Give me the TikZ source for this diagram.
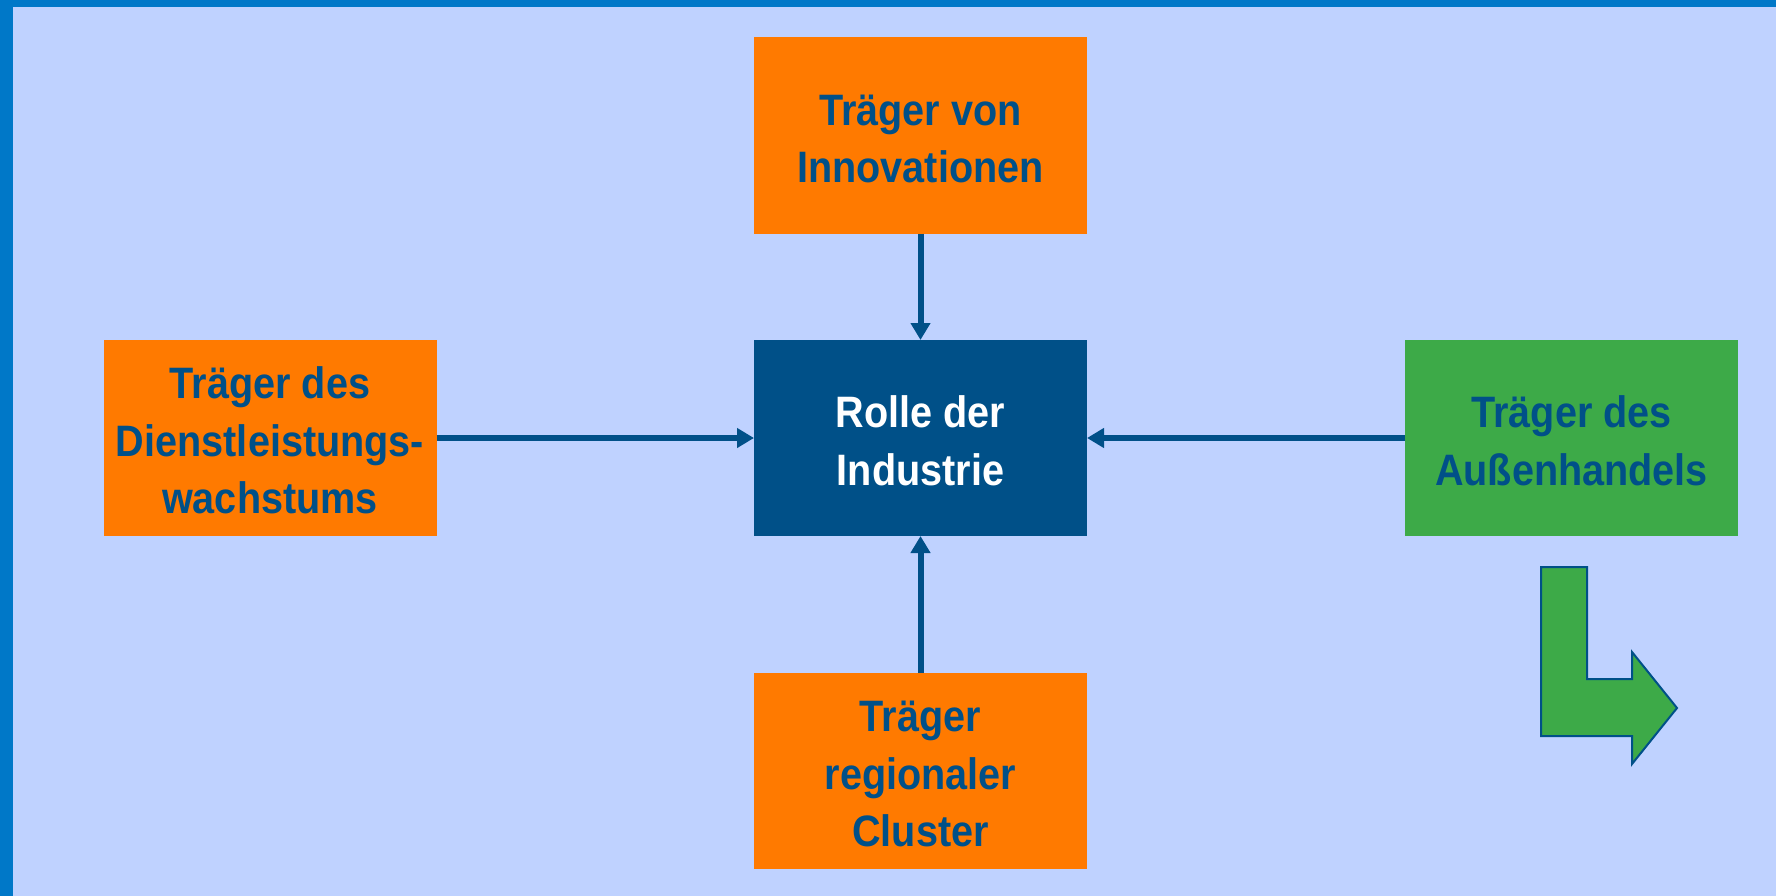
\documentclass[tikz,border=0pt]{standalone}
\usepackage{fontspec}
\setmainfont{Liberation Sans}
\newfontfamily\narrowsans[FakeStretch=0.9]{Liberation Sans}
\usetikzlibrary{arrows.meta}
\definecolor{frameblue}{HTML}{0078C8}
\definecolor{bgblue}{HTML}{BFD2FF}
\definecolor{boxorange}{HTML}{FF7A00}
\definecolor{boxgreen}{HTML}{3DAA48}
\definecolor{darkblue}{HTML}{005088}
\begin{document}
\begin{tikzpicture}[x=1pt,y=-1pt,
  box/.style={minimum width=333pt,minimum height=196pt,inner sep=0pt,outer sep=0pt,
    align=center,font=\narrowsans\fontsize{44}{57.5}\selectfont\bfseries,text=darkblue},
  orangebox/.style={box,fill=boxorange},
  greenbox/.style={box,fill=boxgreen},
  centerbox/.style={box,fill=darkblue,text=white},
  conn/.style={draw=darkblue,line width=6pt,-{Triangle[length=17pt,width=19pt]}}]
\useasboundingbox (0,0) rectangle (1776,896);
\fill[frameblue] (0,0) rectangle (1776,896);
\fill[bgblue] (13,7) rectangle (1776,896);
\node[centerbox] (c) at (920.5,438) {\rule{0pt}{37pt}Rolle der\\Industrie};
\node[orangebox] (t) at (920.5,135.5) {\rule{0pt}{37pt}Träger von\\Innovationen};
\node[orangebox] (l) at (270,438) {\rule{0pt}{37pt}Träger des\\Dienstleistungs-\\wachstums};
\node[greenbox] (r) at (1571.5,438) {\rule{0pt}{37pt}Träger des\\Außenhandels};
\node[orangebox] (b) at (920.5,771) {\rule{0pt}{37pt}Träger\\regionaler\\Cluster};
\draw[conn] (t) -- (c);
\draw[conn] (b) -- (c);
\draw[conn] (l) -- (c);
\draw[conn] (r) -- (c);
\filldraw[fill=boxgreen,draw=darkblue,line width=2pt,line join=miter]
  (1541,567) -- (1587,567) -- (1587,679) -- (1632,679) -- (1632,652)
  -- (1677,708) -- (1632,764) -- (1632,736) -- (1541,736) -- cycle;
\end{tikzpicture}
\end{document}
